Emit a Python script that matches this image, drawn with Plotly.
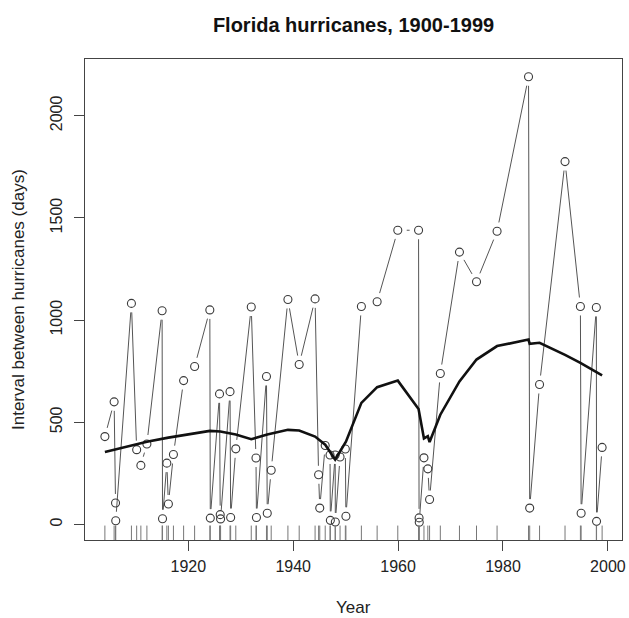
import plotly.graph_objects as go

# ---- data ----
years = [1904.09, 1905.85, 1906.12, 1906.16, 1909.15, 1910.15, 1910.95, 1912.1,
         1915.0, 1915.08, 1915.9, 1916.2, 1917.16, 1919.1, 1921.2, 1924.1, 1924.19,
         1925.95, 1926.08, 1926.15, 1927.95, 1928.07, 1929.05, 1932.0, 1932.9,
         1932.99, 1934.9, 1935.05, 1935.8, 1938.99, 1941.14, 1944.17, 1944.84,
         1945.06, 1946.1, 1947.02, 1947.08, 1948.0, 1948.03, 1948.93, 1949.94,
         1950.05, 1953.0, 1956.0, 1959.94, 1963.9, 1964.0, 1964.03, 1964.93,
         1965.67, 1966.0, 1968.05, 1971.7, 1974.95, 1978.87, 1984.87, 1985.09,
         1986.97, 1991.83, 1994.76, 1994.9, 1997.8, 1997.84, 1998.9]
intervals = [430, 600, 105, 18, 1082, 366, 289, 394, 1046, 28, 300, 100, 342, 704,
             773, 1050, 31, 639, 48, 27, 650, 34, 370, 1064, 325, 34, 724, 55, 265,
             1101, 783, 1104, 243, 80, 386, 340, 20, 340, 12, 330, 369, 40, 1067,
             1090, 1440, 1440, 32, 11, 326, 272, 122, 739, 1333, 1188, 1435, 2191,
             80, 685, 1776, 1067, 55, 1062, 15, 377]

smooth_years = [1904.09, 1909.15, 1912.1, 1916.2, 1919.1, 1921.2, 1924.1, 1926.1,
                1929.05, 1932.0, 1935.05, 1938.99, 1941.14, 1944.17, 1946.1, 1948.0,
                1950.05, 1953.0, 1956.0, 1959.94, 1963.9, 1964.93, 1965.67, 1966.0,
                1968.05, 1971.7, 1974.95, 1978.87, 1984.87, 1985.09, 1986.97,
                1991.83, 1994.76, 1998.9]
smooth_vals = [355, 385, 405, 425, 438, 445, 458, 455, 440, 417, 440, 463, 460, 430,
               390, 318, 405, 595, 672, 704, 565, 421, 432, 403, 537, 700, 807, 873,
               905, 884, 889, 830, 791, 730]

x_ticks = [1920, 1940, 1960, 1980, 2000]
y_ticks = [0, 500, 1000, 1500, 2000]

# ---- layout geometry ----
W, H = 629, 618
ML, MR, MT, MB = 85, 3, 59, 78
PW, PH = W - ML - MR, H - MT - MB

def ext(v):
    lo, hi = min(v), max(v)
    d = (hi - lo) * 0.04
    return [lo - d, hi + d]

xr = ext(years)
yr = ext(intervals)

# R type="b": segments with gaps around the points
gap = 9.0
lx, ly = [], []
for i in range(len(years) - 1):
    x1, y1, x2, y2 = years[i], intervals[i], years[i + 1], intervals[i + 1]
    dxp = (x2 - x1) * PW / (xr[1] - xr[0])
    dyp = (y2 - y1) * PH / (yr[1] - yr[0])
    L = (dxp ** 2 + dyp ** 2) ** 0.5
    if L <= 2 * gap:
        continue
    f = gap / L
    lx += [x1 + f * (x2 - x1), x2 - f * (x2 - x1), None]
    ly += [y1 + f * (y2 - y1), y2 - f * (y2 - y1), None]

# rug
rug_len = 0.03 * (yr[1] - yr[0])
rx, ry = [], []
for x in years:
    rx += [x, x, None]
    ry += [yr[0], yr[0] + rug_len, None]

fig = go.Figure()
fig.add_trace(go.Scatter(x=lx, y=ly, mode="lines",
                         line=dict(color="#555555", width=1), hoverinfo="skip"))
fig.add_trace(go.Scatter(x=years, y=intervals, mode="markers",
                         marker=dict(symbol="circle-open", size=8,
                                     line=dict(color="#3a3a3a", width=1.1),
                                     color="#3a3a3a")))
fig.add_trace(go.Scatter(x=rx, y=ry, mode="lines",
                         line=dict(color="#777777", width=1), hoverinfo="skip"))
fig.add_trace(go.Scatter(x=smooth_years, y=smooth_vals, mode="lines",
                         line=dict(color="#111111", width=2.6)))

font = "Liberation Sans, Arial, Helvetica, sans-serif"
fig.update_layout(
    width=W, height=H,
    margin=dict(l=ML, r=MR, t=MT, b=MB, pad=0),
    paper_bgcolor="white", plot_bgcolor="white",
    showlegend=False,
    font=dict(family=font, size=16, color="#222222"),
    title=dict(text="<b>Florida hurricanes, 1900-1999</b>",
               font=dict(size=20, family=font, color="#111111"),
               x=0.5, xanchor="center", xref="paper",
               y=1 - 25 / H, yanchor="middle", yref="container"),
)
fig.update_xaxes(range=xr, tickvals=x_ticks, ticktext=[str(t) for t in x_ticks],
                 showgrid=False, zeroline=False, showline=True, linecolor="#444444",
                 linewidth=1, mirror=True, ticks="outside", ticklen=10, tickwidth=1,
                 tickcolor="#444444", tickfont=dict(size=16, color="#222222"),
                 ticklabelstandoff=2, ticklabeloverflow="allow")
fig.update_yaxes(range=yr, tickvals=y_ticks, ticktext=[str(t) for t in y_ticks],
                 showgrid=False, zeroline=False, showline=True, linecolor="#444444",
                 linewidth=1, mirror=True, ticks="outside", ticklen=10, tickwidth=1,
                 tickcolor="#444444", tickangle=-90,
                 tickfont=dict(size=16, color="#222222"), ticklabelstandoff=6,
                 ticklabeloverflow="allow")
fig.add_annotation(text="Year", xref="paper", yref="paper", x=0.5,
                   y=-(607 - 540) / PH, xanchor="center", yanchor="middle",
                   showarrow=False, font=dict(size=17, color="#222222"))
fig.add_annotation(text="Interval between hurricanes (days)", xref="paper",
                   yref="paper", x=-(85 - 18) / PW, y=0.5, xanchor="center",
                   yanchor="middle", textangle=-90, showarrow=False,
                   font=dict(size=17, color="#222222"))

fig.write_html(
    "out.html",
    config={"displayModeBar": False, "staticPlot": True},
    post_script=("document.body.style.margin='0px';"
                 "document.documentElement.style.overflow='hidden';"),
)
